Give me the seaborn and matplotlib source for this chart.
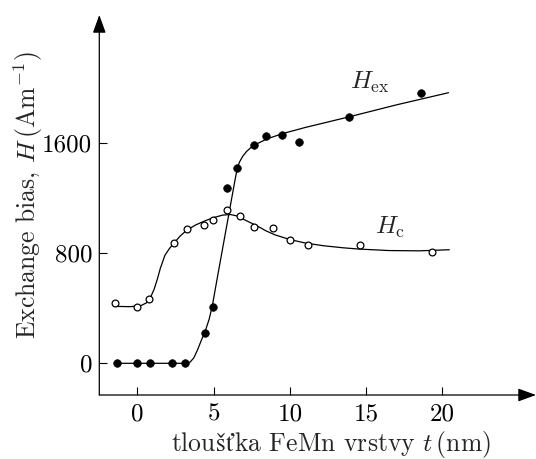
import numpy as np
import pandas as pd
import matplotlib
matplotlib.use("Agg")
import matplotlib.pyplot as plt
import seaborn as sns

# Measured points: exchange bias H_ex and coercivity H_c vs FeMn thickness
t_ex = [-1.35, -0.05, 0.8, 2.25, 3.1, 4.4, 4.95, 5.87, 6.5, 7.67, 8.45, 9.45, 10.6, 13.9, 18.6]
h_ex = [0, 0, 0, 0, 0, 218, 412, 1273, 1423, 1590, 1654, 1661, 1612, 1791, 1968]

t_c = [-1.49, -0.03, 0.76, 2.42, 3.25, 4.35, 4.96, 5.88, 6.75, 7.67, 8.87, 10.03, 11.19, 14.58, 19.32]
h_c = [439, 407, 470, 877, 975, 1006, 1044, 1113, 1069, 994, 982, 899, 860, 860, 807]

# Hand-drawn guide curves through the data
fit_t_ex = [-1.35, 3.2, 3.45, 3.7, 3.95, 4.2, 4.45, 4.7, 4.9, 5.3, 5.7, 6.1, 6.4,
            6.55, 6.7, 6.9, 7.15, 7.5, 7.9, 8.5, 9.5, 11.0, 13.9, 17.0, 20.4]
fit_h_ex = [0, 0, 8, 40, 100, 170, 235, 320, 412, 660, 905, 1150, 1333,
            1420, 1465, 1505, 1540, 1575, 1600, 1632, 1670, 1715, 1793, 1880, 1968]

fit_t_c = [-1.5, -0.5, 0.2, 0.6, 0.9, 1.1, 1.3, 1.5, 1.8, 2.1, 2.4, 2.8, 3.2, 3.8,
           4.4, 5.0, 5.6, 6.1, 6.6, 7.0, 7.5, 8.0, 8.4, 9.0, 10.0, 11.0, 12.2,
           13.5, 14.5, 16.5, 18.5, 20.45]
fit_h_c = [414, 412, 418, 440, 490, 540, 610, 690, 785, 835, 875, 925, 965, 1005,
           1035, 1060, 1078, 1082, 1070, 1045, 1018, 990, 965, 935, 900, 875, 855,
           840, 831, 820, 818, 826]

x_ticks = [0, 5, 10, 15, 20]
y_ticks = [0, 800, 1600]

# x-axis title, split so the accented letters come from a font that has them
xlabel_parts = ["tlou", "šť", "ka FeMn vrstvy $t\\,$(nm)"]
xlabel_fonts = ["cmr10", "STIXGeneral", "cmr10"]
ylabel = r"Exchange bias, $H\,(\mathrm{Am}^{-1})$"

sns.set_theme(style="ticks")
plt.rcParams["font.family"] = ["cmr10", "DejaVu Serif"]
plt.rcParams["mathtext.fontset"] = "cm"
plt.rcParams["axes.unicode_minus"] = False
plt.rcParams["axes.formatter.use_mathtext"] = True

W, H = 536, 459
fig = plt.figure(figsize=(W / 100, H / 100), dpi=100)
fig.patch.set_facecolor("white")

# axes frame in pixels: left spine at x=99, bottom spine at y=395 (from top)
left_px, bottom_px, top_px = 99.3, 395.0, 15.0
ax = fig.add_axes([left_px / W, (H - bottom_px) / H,
                   (W - left_px) / W, (bottom_px - top_px) / H])
ax.set_facecolor("white")

px_per_t = 15.25
px_per_h = 110.0 / 800.0
x0 = -2.5
y0 = -230.5
ax.set_xlim(x0, x0 + (W - left_px) / px_per_t)
ax.set_ylim(y0, y0 + (bottom_px - top_px) / px_per_h)

fs_tick = 18
fs_lab = 18.5
fs_curve = 18

# guide curves
sns.lineplot(x=fit_t_ex, y=fit_h_ex, ax=ax, color="black", lw=0.9,
             sort=False, estimator=None, zorder=2)
sns.lineplot(x=fit_t_c, y=fit_h_c, ax=ax, color="black", lw=0.9,
             sort=False, estimator=None, zorder=2)

# measured points
df_ex = pd.DataFrame({"t": t_ex, "H": h_ex})
df_c = pd.DataFrame({"t": t_c, "H": h_c})
sns.scatterplot(data=df_ex, x="t", y="H", ax=ax, color="black", s=30,
                edgecolor="black", linewidth=0.5, zorder=3)
sns.scatterplot(data=df_c, x="t", y="H", ax=ax, facecolor="white", s=24,
                edgecolor="black", linewidth=0.9, zorder=3)

# curve labels
ax.text(13.95, 2000, r"$H_{\mathrm{ex}}$", fontsize=fs_curve, ha="left", va="baseline")
ax.text(15.6, 945, r"$H_{\mathrm{c}}$", fontsize=fs_curve, ha="left", va="baseline")

# axes with arrowheads
for s in ax.spines.values():
    s.set_visible(False)
arrow = dict(arrowstyle="-|>,head_length=0.55,head_width=0.2", color="black",
             lw=0.9, shrinkA=0, shrinkB=0, mutation_scale=20)
ax.annotate("", xy=(1, 0), xytext=(0, 0), xycoords="axes fraction",
            textcoords="axes fraction", arrowprops=arrow, annotation_clip=False)
ax.annotate("", xy=(0, 1), xytext=(0, 0), xycoords="axes fraction",
            textcoords="axes fraction", arrowprops=arrow, annotation_clip=False)

ax.set_xticks(x_ticks)
ax.set_yticks(y_ticks)
ax.set_xticklabels([str(v) for v in x_ticks])
ax.set_yticklabels([str(v) for v in y_ticks])
ax.tick_params(axis="both", direction="in", length=6, width=0.8,
               labelsize=fs_tick, color="black", labelcolor="black")
ax.tick_params(axis="x", pad=6)
ax.tick_params(axis="y", pad=5)
ax.set_xlabel("")

ax.set_ylabel(ylabel, fontsize=fs_lab, va="center")
ax.yaxis.set_label_coords(-0.163, 0.526)

# x-axis title: pieces chained on a common baseline, then centred
base_y = (H - 451) / H
pieces = []
prev = fig.text(0.0, base_y, xlabel_parts[0], fontsize=fs_lab,
                family=xlabel_fonts[0], ha="left", va="baseline")
pieces.append(prev)
for part, fam in zip(xlabel_parts[1:], xlabel_fonts[1:]):
    nxt = fig.text(0.0, base_y, part, fontsize=fs_lab, family=fam,
                   ha="left", va="baseline")
    pieces.append(nxt)
fig.canvas.draw()
renderer = fig.canvas.get_renderer()
x_cursor = 0.0
for p in pieces:
    p.set_x(x_cursor / W)
    x_cursor += p.get_window_extent(renderer).width
center_px = 331.0
shift = center_px - x_cursor / 2
for p in pieces:
    p.set_x(p.get_position()[0] + shift / W)

fig.savefig("out.png", dpi=100, facecolor="white")
